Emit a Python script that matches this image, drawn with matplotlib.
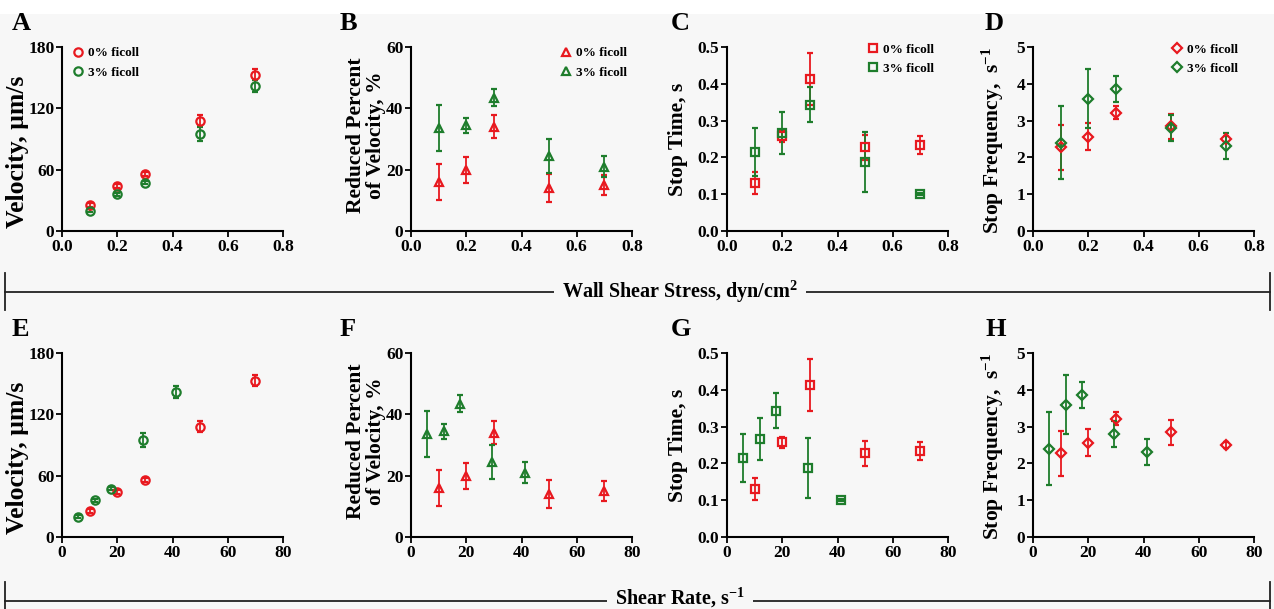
import matplotlib
matplotlib.use("Agg")
import matplotlib.pyplot as plt
from matplotlib.lines import Line2D
from matplotlib.patches import Rectangle

# === DATOS ===
wss = [0.1, 0.2, 0.3, 0.5, 0.7]
rate_0 = [10, 20, 30, 50, 70]
rate_3 = [5.9, 11.8, 17.7, 29.5, 41.3]

vel_0 = [25, 44, 56, 108, 153]
vel_0_err = [2, 2, 2, 5, 5]
vel_3 = [20, 36, 47, 95, 142]
vel_3_err = [1.5, 1.5, 1.5, 7, 6]

red_0 = [16, 20, 34, 14, 15]
red_0_err = [6, 4.2, 3.8, 4.5, 3.2]
red_3 = [33.5, 34.5, 43.5, 24.5, 21]
red_3_err = [7.5, 2.5, 2.8, 5.5, 3.5]

stop_0 = [0.13, 0.257, 0.413, 0.227, 0.233]
stop_0_err = [0.03, 0.016, 0.07, 0.033, 0.025]
stop_3 = [0.215, 0.266, 0.343, 0.188, 0.1]
stop_3_err = [0.065, 0.057, 0.048, 0.082, 0.003]

freq_0 = [2.27, 2.56, 3.22, 2.84, 2.5]
freq_0_err = [0.62, 0.37, 0.18, 0.35, 0.08]
freq_3 = [2.4, 3.6, 3.86, 2.8, 2.3]
freq_3_err = [1.0, 0.8, 0.36, 0.36, 0.35]

ROJO = "#e8191f"
VERDE = "#1e7d2c"
FONDO = "#f7f7f7"

plt.rcParams["font.family"] = ["Liberation Serif", "DejaVu Serif"]
plt.rcParams["font.weight"] = "bold"
plt.rcParams["mathtext.fontset"] = "custom"
plt.rcParams["mathtext.rm"] = "Liberation Serif:bold"
plt.rcParams["mathtext.default"] = "rm"

W, H = 1274, 609
fig = plt.figure(figsize=(W / 100, H / 100), dpi=100, facecolor=FONDO)
fig.add_artist(Rectangle((0, 1 - 14 / H), 1, 14 / H, transform=fig.transFigure,
                         facecolor="white", edgecolor="none"))

lefts = [62, 411, 727, 1033]
tops = [47, 353]
aw, ah = 221, 184
letra_x = [12, 340, 671, 985]
letra_y = [12, 318]
ylab_der = [29, 386, 688, 1006]   # borde derecho del ylabel, px
ylab_cy = [0.43, 0.52, 0.5, 0.49]  # centro vertical del ylabel (fracción de ejes)
ylab_fs = [18.5, 15.5, 15.5, 15.5]
ley_pos = [("upper left", (0.0, 1.05)), ("upper right", (1.02, 1.05)),
           ("upper right", (0.98, 1.07)), ("upper right", (0.97, 1.07))]

paneles = [
    ("A", vel_0, vel_0_err, vel_3, vel_3_err, "o", (0, 180), [0, 60, 120, 180], "Velocity, μm/s"),
    ("B", red_0, red_0_err, red_3, red_3_err, "^", (0, 60), [0, 20, 40, 60], "Reduced Percent\nof Velocity, %"),
    ("C", stop_0, stop_0_err, stop_3, stop_3_err, "s", (0, 0.5), [0, 0.1, 0.2, 0.3, 0.4, 0.5], "Stop Time, s"),
    ("D", freq_0, freq_0_err, freq_3, freq_3_err, "D", (0, 5), [0, 1, 2, 3, 4, 5], "Stop Frequency,  s$^{-1}$"),
]
letras2 = ["E", "F", "G", "H"]

for fila in range(2):
    for j, (letra, y0, e0, y3, e3, mk, ylim, yt, ylab) in enumerate(paneles):
        ax = fig.add_axes([lefts[j] / W, 1 - (tops[fila] + ah) / H, aw / W, ah / H])
        ax.set_facecolor(FONDO)
        if fila == 0:
            x0, x3 = wss, wss
            ax.set_xlim(0, 0.8)
            ax.set_xticks([0, 0.2, 0.4, 0.6, 0.8])
            ax.set_xticklabels(["0.0", "0.2", "0.4", "0.6", "0.8"])
        else:
            x0, x3 = rate_0, rate_3
            ax.set_xlim(0, 80)
            ax.set_xticks([0, 20, 40, 60, 80])
            letra = letras2[j]
        ms = 6 if mk != "D" else 5.5
        ax.errorbar(x0, y0, yerr=e0, fmt=mk, color=ROJO, mfc="none", mec=ROJO, ms=ms, mew=1.6,
                    elinewidth=1.3, capsize=2, capthick=1.3, zorder=3)
        ax.errorbar(x3, y3, yerr=e3, fmt=mk, color=VERDE, mfc="none", mec=VERDE, ms=ms, mew=1.6,
                    elinewidth=1.3, capsize=2, capthick=1.3, zorder=3)
        ax.set_ylim(*ylim)
        ax.set_yticks(yt)
        if letra in ("C", "G"):
            ax.set_yticklabels([f"{v:.1f}" for v in yt])
        for s in ["top", "right"]:
            ax.spines[s].set_visible(False)
        for s in ["left", "bottom"]:
            ax.spines[s].set_linewidth(1.5)
        ax.tick_params(direction="out", length=4, width=1.3, labelsize=12.5, pad=1.5)
        for t in ax.get_xticklabels() + ax.get_yticklabels():
            t.set_fontweight("bold")
        ax.set_ylabel(ylab, fontsize=ylab_fs[j], fontweight="bold", linespacing=1.0)
        ax.yaxis.set_label_coords((ylab_der[j] - lefts[j]) / aw, ylab_cy[j])
        fig.text(letra_x[j] / W, 1 - letra_y[fila] / H, letra, fontsize=19, fontweight="bold",
                 va="top", ha="left")
        if fila == 0:
            handles = [Line2D([], [], ls="none", marker=mk, ms=ms, mfc="none", mec=ROJO, mew=1.6),
                       Line2D([], [], ls="none", marker=mk, ms=ms, mfc="none", mec=VERDE, mew=1.6)]
            loc, anchor = ley_pos[j]
            ax.legend(handles, ["0% ficoll", "3% ficoll"], loc=loc, bbox_to_anchor=anchor,
                      frameon=False, prop={"weight": "bold", "size": 9.5},
                      handletextpad=0.3, borderaxespad=0.3, labelspacing=0.55, handlelength=1.0)

# === LÍNEAS DIVISORIAS CON TÍTULO ===
for yline, ytxt, ytop, ybot, texto in [(292, 292, 273, 310, "Wall Shear Stress, dyn/cm$^{2}$"),
                                        (601, 598, 582, 609, "Shear Rate, s$^{-1}$")]:
    yf = 1 - yline / H
    fig.add_artist(Line2D([5 / W, 1270 / W], [yf, yf], color="#222222", lw=1.3))
    for xv in [5, 1270]:
        fig.add_artist(Line2D([xv / W, xv / W], [1 - ytop / H, 1 - ybot / H], color="#222222", lw=1.3))
    fig.text(680 / W, 1 - ytxt / H, texto, ha="center", va="center", fontsize=14.5, fontweight="bold",
             bbox=dict(facecolor=FONDO, edgecolor="none", pad=6), zorder=5)

fig.savefig("out.png", dpi=100, facecolor=FONDO)
